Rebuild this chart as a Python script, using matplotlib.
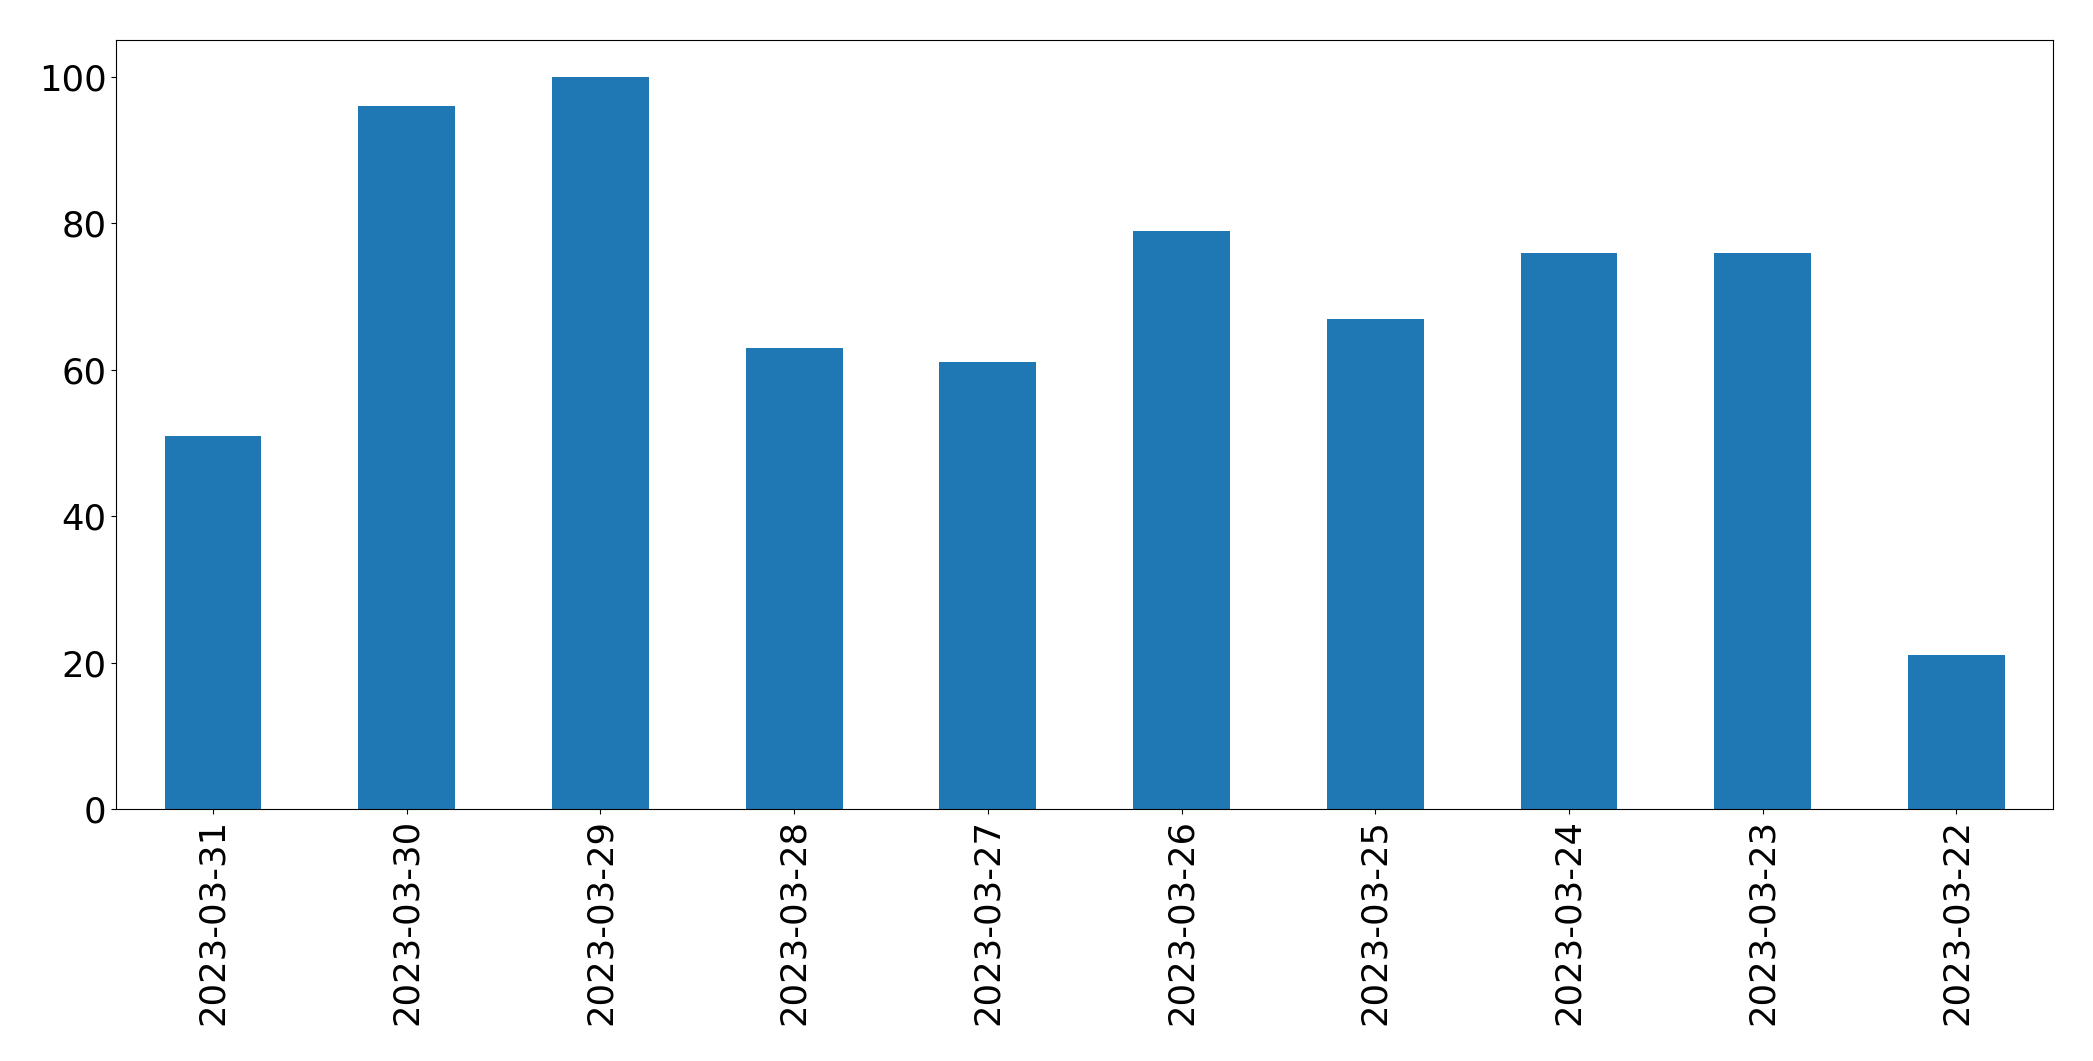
import matplotlib
matplotlib.use("Agg")
import matplotlib.pyplot as plt
import pandas as pd

# daily counts, newest first (as in the source chart)
dates = ["2023-03-31", "2023-03-30", "2023-03-29", "2023-03-28", "2023-03-27",
         "2023-03-26", "2023-03-25", "2023-03-24", "2023-03-23", "2023-03-22"]
counts = [51, 96, 100, 63, 61, 79, 67, 76, 76, 21]

series = pd.Series(counts, index=dates)

fig, ax = plt.subplots(figsize=(20.93, 10.61), dpi=100)
series.plot(kind="bar", ax=ax, color="#1f77b4", fontsize=25.5)
fig.subplots_adjust(left=0.0555, right=0.981, top=0.962, bottom=0.2375)

fig.savefig("out.png", dpi=100)
